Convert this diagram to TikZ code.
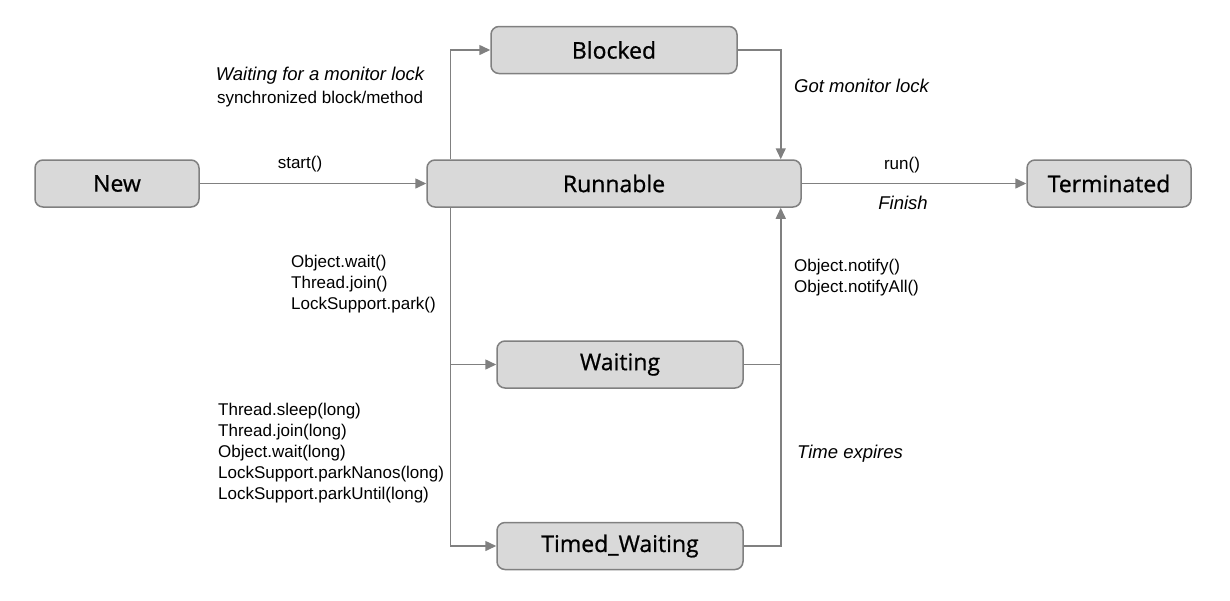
\documentclass[tikz,border=0pt]{standalone}
\usepackage{fontspec}
\usetikzlibrary{arrows.meta}
\newfontfamily\nodefont[FakeBold=0.8]{Open Sans}
\newfontfamily\lblfont{Liberation Sans}
\definecolor{gline}{HTML}{808080}
\definecolor{gfill}{HTML}{D9D9D9}
\tikzset{
  state/.style={draw=gline, fill=gfill, line width=1.5pt, rounded corners=8pt,
    minimum height=47pt, inner sep=0pt, font=\nodefont\fontsize{23}{26}\selectfont},
  conn/.style={draw=gline, line width=1.5pt, -{Triangle[length=11pt,width=10pt]}},
  plain/.style={draw=gline, line width=1.5pt},
  lbl/.style={font=\lblfont\fontsize{17}{21}\selectfont, inner sep=0pt, align=left},
  ilbl/.style={font=\lblfont\itshape\fontsize{18.5}{22}\selectfont, inner sep=0pt, align=left}
}
\begin{document}
\begin{tikzpicture}[x=1pt,y=-1pt]
\useasboundingbox (0,0) rectangle (1230,600);
\node[state, minimum width=164pt] (new) at (117,183.5) {New};
\node[state, minimum width=374pt] (run) at (614,183.5) {Runnable};
\node[state, minimum width=164pt] (term) at (1109,183.5) {Terminated};
\node[state, minimum width=246pt] (blocked) at (614,50) {Blocked};
\node[state, minimum width=246pt] (wait) at (620,364.5) {Waiting};
\node[state, minimum width=246pt] (timed) at (620,546) {Timed\_Waiting};

\coordinate (j) at ([xshift=-21pt]run.south east |- wait.east);

\draw[conn] (new) -- (run);
\draw[conn] ([xshift=24pt]run.north west) |- (blocked.west);
\draw[conn] (blocked.east) -| ([xshift=-21pt]run.north east);
\draw[conn] (run.east) -- (term.west);
\draw[conn] ([xshift=24pt]run.south west) |- (wait.west);
\draw[conn] ([xshift=24pt]run.south west) |- (timed.west);
\draw[conn] (wait.east) -| ([xshift=-21pt]run.south east);
\draw[plain] (timed.east) -| (j);

\node[lbl] (lstart) at (300,164) {start()};
\node[ilbl, align=center] (lmon) at (320,76) {Waiting for a monitor lock};
\node[lbl, align=center] (lsync) at (320,99) {synchronized block/method};
\node[ilbl, anchor=west] (lgot) at (794,86) {Got monitor lock};
\node[lbl] (lrun) at (902,165) {run()};
\node[ilbl] (lfin) at (903,203) {Finish};
\node[lbl, anchor=west] (lnot) at (794,278) {Object.notify()\\Object.notifyAll()};
\node[ilbl, anchor=west] (ltime) at (797,454) {Time expires};
\node[lbl, anchor=west] (lwait) at (291,284) {Object.wait()\\Thread.join()\\LockSupport.park()};
\node[lbl, anchor=west] (lsleep) at (218,453) {Thread.sleep(long)\\Thread.join(long)\\Object.wait(long)\\LockSupport.parkNanos(long)\\LockSupport.parkUntil(long)};
\end{tikzpicture}
\end{document}
